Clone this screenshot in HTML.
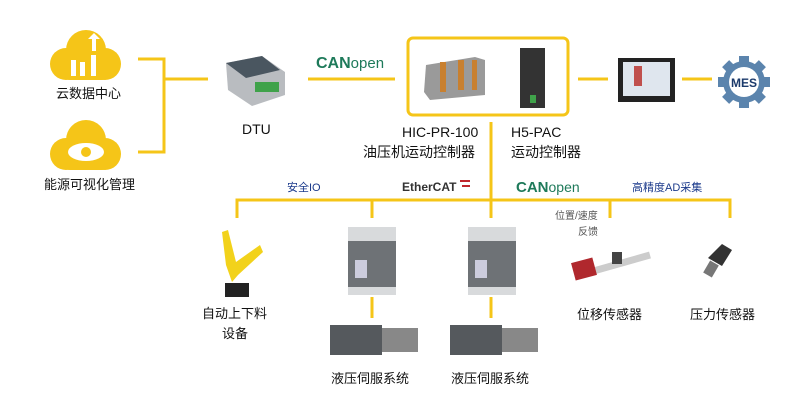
<!DOCTYPE html>
<html><head><meta charset="utf-8"><style>
body{margin:0;background:#fff}
svg{display:block}
text{font-family:"Liberation Sans","Noto Sans CJK SC",sans-serif;fill:#111}
</style></head><body>
<svg width="800" height="400" viewBox="0 0 800 400" xmlns="http://www.w3.org/2000/svg">
<g stroke="#f5c518" stroke-width="3" fill="none">
<path d="M138 59H164V152H138M164 79H208"/>
<path d="M308 79H395M578 79H608M682 79H712"/>
<rect x="408" y="38" width="160" height="77" rx="5"/>
<path d="M491 122V218M237 218V200H730V218M372 200V218M610 200V218"/>
<path d="M372 297V318M491 297V318"/>
</g>
<!-- clouds -->
<g fill="#f5c518">
<circle cx="86" cy="50" r="20"/><circle cx="66" cy="64" r="16"/><circle cx="105" cy="64" r="16"/><rect x="60" y="60" width="52" height="20" rx="10"/>
<circle cx="86" cy="140" r="20"/><circle cx="66" cy="154" r="16"/><circle cx="105" cy="154" r="16"/><rect x="60" y="150" width="52" height="20" rx="10"/>
</g>
<g fill="#fff"><rect x="71" y="60" width="5" height="16"/><rect x="80" y="62" width="5" height="14"/><rect x="91" y="55" width="5" height="21"/><path d="M94 33l6 6h-4v12h-4v-12h-4z"/>
<ellipse cx="86" cy="152" rx="18" ry="9"/></g>
<circle cx="86" cy="152" r="5" fill="#f5c518"/>
<text x="56" y="98" font-size="13">云数据中心</text>
<text x="44" y="189" font-size="13">能源可视化管理</text>
<!-- DTU -->
<path d="M226 63L262 56L285 72L285 95L252 106L228 90Z" fill="#b9bcc0"/>
<path d="M226 63L262 56L280 70L246 78Z" fill="#4a5660"/>
<rect x="255" y="82" width="24" height="10" fill="#3fa24a"/>
<text x="242" y="134" font-size="14">DTU</text>
<!-- CANopen -->
<text x="316" y="68" font-size="16" font-weight="bold" style="fill:#1e7a5a">CAN<tspan font-weight="normal" font-size="15">open</tspan></text>
<!-- HIC -->
<path d="M426 65L475 57L485 60L485 95L430 100L424 92Z" fill="#9a9a9a"/>
<rect x="440" y="62" width="6" height="30" fill="#c88030"/><rect x="458" y="60" width="6" height="30" fill="#c88030"/><rect x="472" y="60" width="5" height="30" fill="#c88030"/>
<rect x="520" y="48" width="25" height="60" fill="#333"/><rect x="530" y="95" width="6" height="8" fill="#3fa24a"/>
<text x="402" y="137" font-size="14">HIC-PR-100</text>
<text x="363" y="157" font-size="14">油压机运动控制器</text>
<text x="511" y="137" font-size="14">H5-PAC</text>
<text x="511" y="157" font-size="14">运动控制器</text>
<!-- HMI -->
<rect x="618" y="58" width="57" height="44" fill="#222"/><rect x="623" y="62" width="47" height="34" fill="#dfe6ee"/>
<rect x="634" y="66" width="8" height="20" fill="#c0504d"/>
<!-- MES -->
<circle cx="744" cy="82" r="21" fill="#5b84ad"/>
<g fill="#5b84ad"><rect x="739" y="56" width="10" height="52"/><rect x="718" y="77" width="52" height="10"/><rect x="739" y="56" width="10" height="52" transform="rotate(45 744 82)"/><rect x="739" y="56" width="10" height="52" transform="rotate(-45 744 82)"/></g>
<circle cx="744" cy="82" r="15" fill="#fff"/>
<text x="744" y="87" font-size="12" font-weight="bold" text-anchor="middle" style="fill:#1b3a6b">MES</text>
<!-- bus labels -->
<text x="287" y="191" font-size="11" style="fill:#1b3a8b">安全IO</text>
<text x="402" y="191" font-size="12" font-weight="bold" style="fill:#333">EtherCAT</text>
<path d="M460 181h10M462 186h8" stroke="#c0282d" stroke-width="2"/>
<text x="516" y="192" font-size="15" font-weight="bold" style="fill:#1e7a5a">CAN<tspan font-weight="normal" font-size="14">open</tspan></text>
<text x="632" y="191" font-size="11" style="fill:#1b3a8b">高精度AD采集</text>
<!-- robot -->
<path d="M222 232L228 230L236 262L260 245L263 252L238 275L232 282L226 265Z" fill="#f2d21b"/>
<rect x="225" y="283" width="24" height="14" fill="#222"/>
<text x="202" y="318" font-size="13">自动上下料</text>
<text x="222" y="338" font-size="13">设备</text>
<!-- drives -->
<g fill="#6e7276"><rect x="348" y="227" width="48" height="66"/><rect x="468" y="227" width="48" height="66"/></g>
<g fill="#d8dadc"><rect x="348" y="227" width="48" height="14"/><rect x="468" y="227" width="48" height="14"/><rect x="348" y="287" width="48" height="8"/><rect x="468" y="287" width="48" height="8"/></g>
<rect x="355" y="260" width="12" height="18" fill="#ccd"/><rect x="475" y="260" width="12" height="18" fill="#ccd"/>
<!-- motors -->
<g fill="#55595d"><rect x="330" y="325" width="52" height="30"/><rect x="450" y="325" width="52" height="30"/></g>
<g fill="#888"><rect x="382" y="328" width="36" height="24"/><rect x="502" y="328" width="36" height="24"/></g>
<text x="331" y="383" font-size="13">液压伺服系统</text>
<text x="451" y="383" font-size="13">液压伺服系统</text>
<!-- sensors -->
<text x="555" y="219" font-size="10" style="fill:#555">位置/速度</text>
<text x="578" y="235" font-size="10" style="fill:#555">反馈</text>
<path d="M590 272L650 255" stroke="#ccc" stroke-width="7"/>
<rect x="573" y="260" width="22" height="18" fill="#b0282d" transform="rotate(-15 584 269)"/>
<rect x="612" y="252" width="10" height="12" fill="#444"/>
<text x="577" y="319" font-size="13">位移传感器</text>
<path d="M708 258l14-14 10 6-10 16z" fill="#333"/><rect x="706" y="262" width="10" height="14" fill="#777" transform="rotate(30 711 269)"/>
<text x="690" y="319" font-size="13">压力传感器</text>
</svg>
</body></html>
